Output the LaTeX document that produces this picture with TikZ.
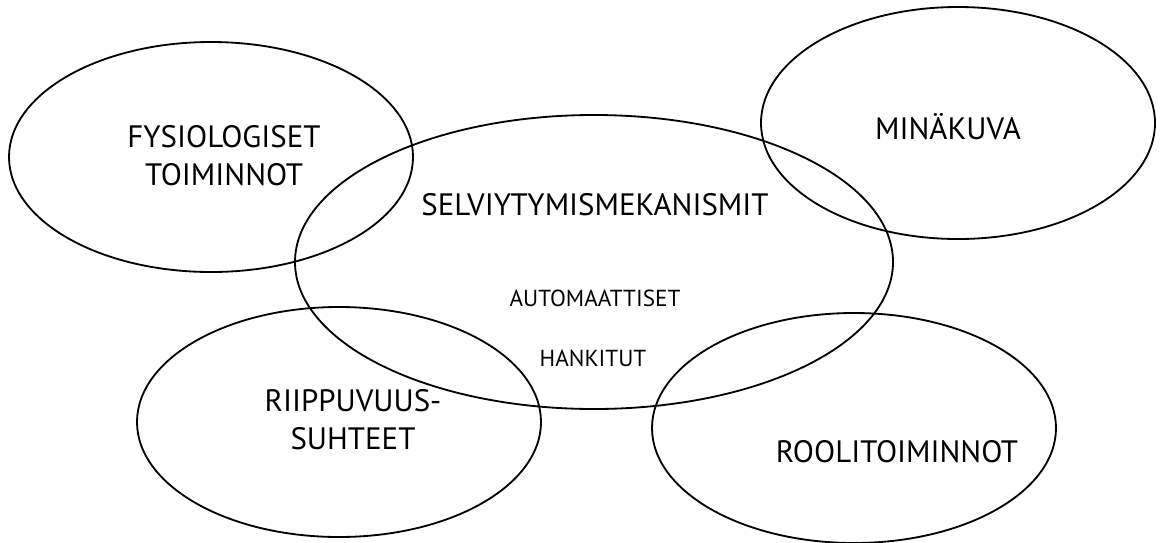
\documentclass[tikz,border=0pt]{standalone}
\usepackage{fontspec}
\setmainfont{PT Sans}
\usetikzlibrary{positioning}

\begin{document}
\begin{tikzpicture}[x=0.025cm, y=-0.025cm,
    ring/.style={line width=1.3pt},
    biglabel/.style={font=\fontsize{22}{27}\selectfont, align=center, inner sep=0pt},
    smalllabel/.style={font=\fontsize{16.5}{19}\selectfont, inner sep=0pt}]
            \useasboundingbox (0,0) rectangle (1162,542);
            \draw[ring] (211,157) ellipse (202 and 115);
            \node[biglabel] (fysio) at (224,156) {FYSIOLOGISET\\TOIMINNOT};
            \draw[ring] (958,123) ellipse (197 and 116);
            \node[biglabel] (mina) at (948,127) {MINÄKUVA};
            \draw[ring] (594,262) ellipse (299 and 147);
            \node[biglabel] (selv) at (595,205) {SELVIYTYMISMEKANISMIT};
            \node[smalllabel] (auto) at (595,298) {AUTOMAATTISET};
            \node[smalllabel] (hank) at (593,358) {HANKITUT};
            \draw[ring] (339,422) ellipse (202 and 115);
            \node[biglabel] (riip) at (353,420) {RIIPPUVUUS-\\SUHTEET};
            \draw[ring] (854,428) ellipse (202 and 115);
            \node[biglabel] (rooli) at (897,452) {ROOLITOIMINNOT};
        \end{tikzpicture}
\end{document}
